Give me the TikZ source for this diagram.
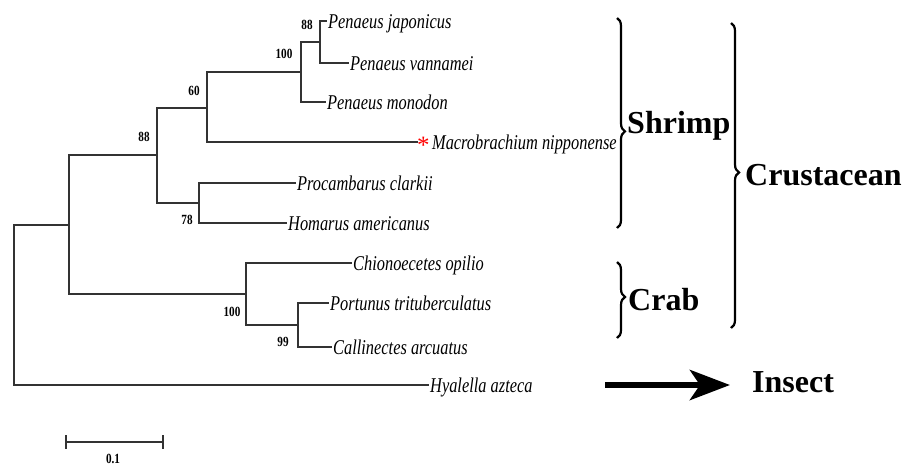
\documentclass[tikz,border=0pt]{standalone}
\usepackage{fontspec}
\setmainfont{Liberation Serif}
\newfontfamily\treefont{Liberation Serif}[FakeStretch=0.78]
\newfontfamily\bootfont{Liberation Serif}[FakeStretch=0.8]
\usetikzlibrary{arrows.meta,decorations.pathreplacing}
\begin{document}
\begin{tikzpicture}[x=1pt,y=-1pt,
  branch/.style={line width=1.3pt, draw=black!80, line cap=rect},
  leaf/.style={anchor=west, inner xsep=2pt, inner ysep=0pt, text height=15pt, text depth=1pt,
    font=\treefont\itshape\fontsize{21}{21}\selectfont},
  boot/.style={font=\bootfont\bfseries\fontsize{14}{14}\selectfont, inner sep=0pt},
  group/.style={font=\bfseries\fontsize{32}{32}\selectfont, anchor=base west, inner sep=0pt},
  bracegrp/.style={decorate, line width=2.2pt, decoration={brace, amplitude=8pt, aspect=#1}},
]
\useasboundingbox (0,0) rectangle (909,467);

% internal nodes
\coordinate (root) at (14,305);
\coordinate (crust) at (69,225);
\coordinate (shr) at (157,155);
\coordinate (n60) at (207,108);
\coordinate (n100) at (301,72);
\coordinate (n88) at (320,42);
\coordinate (nproc) at (199,203);
\coordinate (crab) at (246,294);
\coordinate (nport) at (298,325);

% leaves
\node[leaf] (pj) at (326,21) {Penaeus japonicus};
\node[leaf] (pv) at (348,63) {Penaeus vannamei};
\node[leaf] (pm) at (325,102) {Penaeus monodon};
\node[anchor=west, inner sep=0pt, text=red, font=\fontsize{25}{25}\selectfont, text height=0pt, text depth=0pt] (ast) at (417,142) {\raisebox{-11.5pt}{*}};
\node[leaf] (mn) at (ast.east) {Macrobrachium nipponense};
\node[leaf] (pc) at (295,183) {Procambarus clarkii};
\node[leaf] (ha) at (286,223) {Homarus americanus};
\node[leaf] (co) at (351,263) {Chionoecetes opilio};
\node[leaf] (pt) at (328,303) {Portunus trituberculatus};
\node[leaf] (ca) at (331,347) {Callinectes arcuatus};
\node[leaf] (hy) at (428,385) {Hyalella azteca};

% branches
\draw[branch] (root) |- (crust);
\draw[branch] (root) |- (hy.west);
\draw[branch] (crust) |- (shr);
\draw[branch] (crust) |- (crab);
\draw[branch] (shr) |- (n60);
\draw[branch] (shr) |- (nproc);
\draw[branch] (n60) |- (n100);
\draw[branch] (n60) |- (ast.west);
\draw[branch] (n100) |- (n88);
\draw[branch] (n100) |- (pm.west);
\draw[branch] (n88) |- (pj.west);
\draw[branch] (n88) |- (pv.west);
\draw[branch] (nproc) |- (pc.west);
\draw[branch] (nproc) |- (ha.west);
\draw[branch] (crab) |- (co.west);
\draw[branch] (crab) |- (nport);
\draw[branch] (nport) |- (pt.west);
\draw[branch] (nport) |- (ca.west);

% bootstrap values
\node[boot] (b1) at (307,25) {88};
\node[boot] (b2) at (284,54) {100};
\node[boot] (b3) at (194,91) {60};
\node[boot] (b4) at (144,137) {88};
\node[boot] (b5) at (187,220) {78};
\node[boot] (b6) at (232,312) {100};
\node[boot] (b7) at (283,342) {99};

% scale bar
\coordinate (sl) at (66,442);
\coordinate (sr) at (163,442);
\draw[branch, line cap=butt] (sl) -- (sr);
\draw[branch, line cap=butt] (66,435) -- (66,449);
\draw[branch, line cap=butt] (163,435) -- (163,449);
\node[boot] (sbl) at (113,459) {0.1};

% braces
\coordinate (sbT) at (617,18);
\coordinate (sbB) at (617,228);
\draw[bracegrp=0.54] (sbT) -- (sbB);
\coordinate (cbT) at (617,262);
\coordinate (cbB) at (617,338);
\draw[bracegrp=0.46] (cbT) -- (cbB);
\coordinate (ubT) at (731,23);
\coordinate (ubB) at (731,328);
\draw[bracegrp=0.49] (ubT) -- (ubB);

\node[group] (shrimp) at (627,133) {Shrimp};
\node[group] (crabl) at (628,310) {Crab};
\node[group] (crustl) at (745,185) {Crustacean};

% arrow
\coordinate (ar1) at (605,385);
\coordinate (ar2) at (730,385);
\draw[line width=6.5pt, -{Stealth[length=40pt,width=30pt,inset=10pt]}] (ar1) -- (ar2);
\node[group] (insect) at (752,392) {Insect};
\end{tikzpicture}
\end{document}
